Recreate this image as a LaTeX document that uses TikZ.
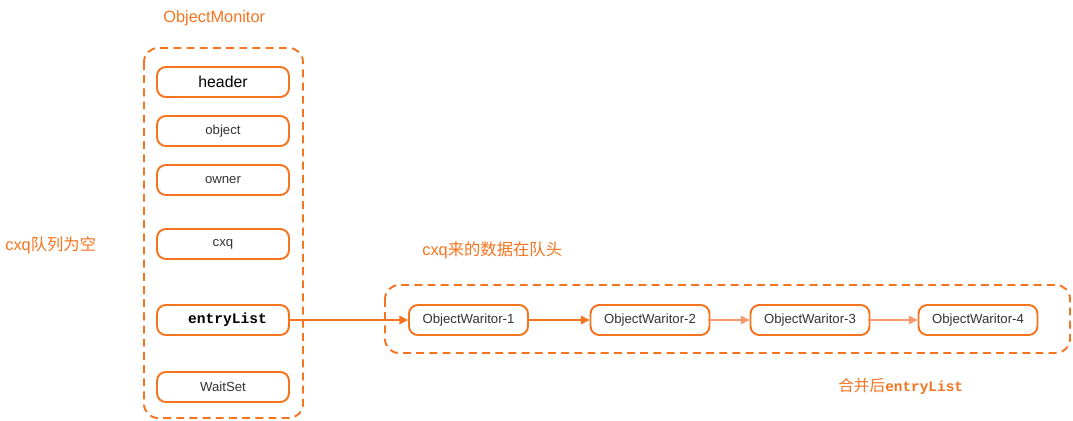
\documentclass[tikz,border=0pt]{standalone}
\usepackage{fontspec}
\setmainfont{Liberation Sans}
\setmonofont{Liberation Mono}
\newfontfamily\cjk{Noto Sans CJK SC}
\usetikzlibrary{arrows.meta}
\definecolor{monorange}{HTML}{F5741F}
\definecolor{lightorange}{HTML}{F99B6B}
\definecolor{boxtext}{HTML}{333333}

\tikzset{
  field/.style={draw=monorange,line width=1.1pt,rounded corners=5pt,minimum width=2.64cm,minimum height=0.6cm,
    font=\fontsize{7.5}{9}\selectfont,text=boxtext},
  waiter/.style={field,minimum width=2.38cm},
  group/.style={draw=monorange,line width=1.1pt,dash pattern=on 4.5pt off 3pt,rounded corners=8pt},
  link/.style={monorange,line width=0.6pt,-{Triangle[length=5pt,width=5pt]}},
  note/.style={text=monorange,font=\fontsize{9.3}{11}\selectfont,anchor=west,inner sep=0pt}
}

\begin{document}
\begin{tikzpicture}[x=0.02cm,y=-0.02cm]
    \useasboundingbox (0,0) rectangle (1073,420);
    %labels
    \node[note] (montitle) at (163,18) {ObjectMonitor};
    \node[note] (emptynote) at (5,245) {cxq{\cjk 队列为空}};
    \node[note] (headnote) at (422,250) {cxq{\cjk 来的数据在队头}};
    \node[note] (mergenote) at (838,386) {{\cjk\fontsize{8.9}{11}\selectfont 合并后}{\ttfamily\bfseries\fontsize{8.2}{10}\selectfont entryList}};

    % monitor
    \draw[group] (144,48) rectangle (303,418);
    \node[field,font=\fontsize{9}{11}\selectfont,text=black] (header) at (223,82) {header};
    \node[field] (object) at (223,131) {object};
    \node[field] (owner) at (223,180) {owner};
    \node[field] (cxq) at (223,244) {cxq};
    \node[field,font=\ttfamily\bfseries\fontsize{8.3}{10}\selectfont,text=black] (entry) at (223,320) {\hspace{5pt}entryList};
    \node[field] (waitset) at (223,387) {WaitSet};

    % merged entryList
    \draw[group] (385,285) rectangle (1070,353);
    \node[waiter] (ow1) at (468.5,320) {ObjectWaritor-1};
    \node[waiter] (ow2) at (650,320) {ObjectWaritor-2};
    \node[waiter] (ow3) at (810,320) {ObjectWaritor-3};
    \node[waiter] (ow4) at (978,320) {ObjectWaritor-4};

    \draw[link] (entry) -- (ow1);
    \draw[link] (ow1) -- (ow2);
    \draw[link,lightorange] (ow2) -- (ow3);
    \draw[link,lightorange] (ow3) -- (ow4);
  \end{tikzpicture}
\end{document}
